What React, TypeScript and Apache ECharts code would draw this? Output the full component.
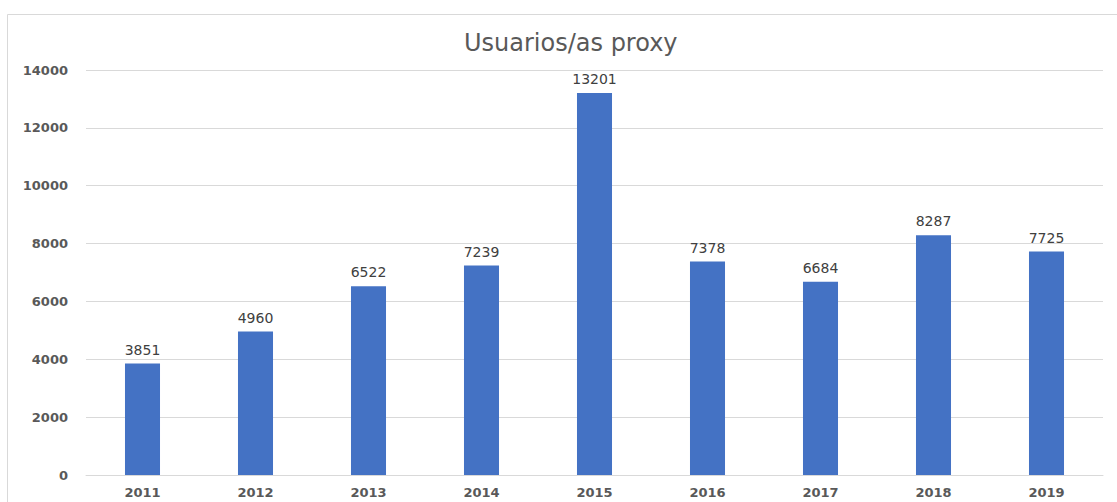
import React, { useEffect, useRef } from "react";
import * as echarts from "echarts";

const categories = ["2011", "2012", "2013", "2014", "2015", "2016", "2017", "2018", "2019"];
const values = [3851, 4960, 6522, 7239, 13201, 7378, 6684, 8287, 7725];
const titleText = "Usuarios/as proxy";

export default function App() {
  const ref = useRef<HTMLDivElement>(null);
  useEffect(() => {
    if (!ref.current) return;
    const chart = echarts.init(ref.current, undefined, { renderer: "svg" });
    chart.setOption({
      animation: false,
      backgroundColor: "#ffffff",
      title: {
        text: titleText,
        left: 459,
        top: 26,
        textStyle: { fontFamily: "DejaVu Sans", fontSize: 24, fontWeight: "normal", color: "#595959" },
      },
      graphic: [
        {
          type: "rect",
          shape: { x: 7.5, y: 14.5, width: 1120, height: 500 },
          style: { fill: "none", stroke: "#d9d9d9", lineWidth: 1 },
          silent: true,
        },
      ],
      grid: { left: 86, right: 14, top: 70, bottom: 27 },
      xAxis: {
        type: "category",
        data: categories,
        axisLine: { show: true, lineStyle: { color: "#d9d9d9" } },
        axisTick: { show: false },
        axisLabel: {
          margin: 11,
          fontFamily: "DejaVu Sans",
          fontSize: 13,
          fontWeight: "bold",
          color: "#595959",
        },
      },
      yAxis: {
        type: "value",
        min: 0,
        max: 14000,
        interval: 2000,
        axisLine: { show: false },
        axisTick: { show: false },
        splitLine: { lineStyle: { color: "#d9d9d9" } },
        axisLabel: {
          margin: 18,
          formatter: (v: number) => String(v),
          fontFamily: "DejaVu Sans",
          fontSize: 13,
          fontWeight: "bold",
          color: "#595959",
        },
      },
      series: [
        {
          type: "bar",
          data: values,
          barWidth: "31%",
          itemStyle: { color: "#4472C4" },
          label: {
            show: true,
            position: "top",
            distance: 7,
            fontFamily: "DejaVu Sans",
            fontSize: 14,
            color: "#404040",
          },
        },
      ],
    });
    return () => chart.dispose();
  }, []);
  return (
    <div
      ref={ref}
      style={{ position: "absolute", left: 0, top: 0, width: 1117, height: 502 }}
    />
  );
}
